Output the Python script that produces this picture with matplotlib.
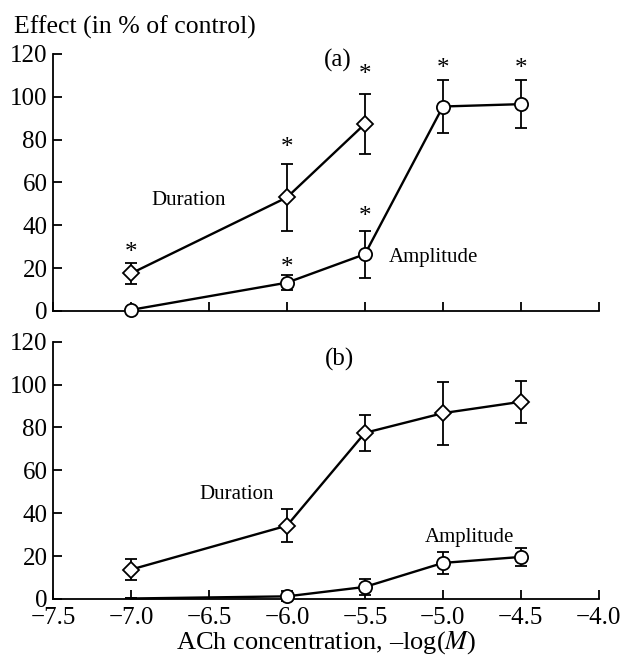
import matplotlib.pyplot as plt
import numpy as np

plt.rcParams['font.family'] = ['Liberation Serif', 'DejaVu Serif']
plt.rcParams['mathtext.fontset'] = 'stix'
plt.rcParams['axes.unicode_minus'] = True

conc = [-7.0, -6.0, -5.5, -5.0, -4.5]

# panel (a)
dur_a_x = [-7.0, -6.0, -5.5]
dur_a = [17.5, 53, 87.3]
dur_a_err = [4.8, 15.7, 14]
amp_a = [0.5, 13.2, 26.5, 95.4, 96.5]
amp_a_err = [0, 3.4, 11, 12.3, 11.2]
stars_a_x = [-7.0, -6.0, -5.5, -6.0, -5.5, -5.0, -4.5]
stars_a_y = [27, 76, 110, 20, 44, 113, 113]

# panel (b)
dur_b = [13.7, 34.2, 77.5, 86.7, 92]
dur_b_err = [4.8, 7.8, 8.3, 14.7, 9.8]
amp_b = [0.2, 1.2, 5.6, 16.8, 19.6]
amp_b_err = [0, 2.3, 3.7, 5, 4.1]

xticks = [-7.5, -7.0, -6.5, -6.0, -5.5, -5.0, -4.5, -4.0]
yticks = [0, 20, 40, 60, 80, 100, 120]

fig = plt.figure(figsize=(6.26, 6.56), dpi=100)
ax1 = fig.add_axes([0.0847, 0.526, 0.872, 0.392])
ax2 = fig.add_axes([0.0847, 0.087, 0.872, 0.392])

def style(ax):
    ax.set_xlim(-7.5, -4.0)
    ax.set_ylim(0, 120)
    ax.spines['top'].set_visible(False)
    ax.spines['right'].set_visible(False)
    ax.spines['left'].set_linewidth(1.3)
    ax.spines['bottom'].set_linewidth(1.3)
    ax.set_xticks(xticks)
    ax.set_yticks(yticks)
    ax.tick_params(axis='x', direction='in', length=6.5, width=1.3, labelsize=18, pad=6)
    ax.tick_params(axis='y', direction='in', length=6.5, width=1.3, labelsize=18, pad=4)

def series(ax, x, y, err, marker, skip_first=False):
    ax.plot(x, y, color='k', lw=1.7, zorder=2, clip_on=False)
    ax.errorbar(x, y, yerr=err, fmt='none', ecolor='k', elinewidth=1.3,
                capsize=4, capthick=1.3, zorder=3, clip_on=False)
    xs, ys = (x[1:], y[1:]) if skip_first else (x, y)
    ax.plot(xs, ys, linestyle='none', marker=marker, markersize=8 if marker == 'D' else 9.5,
            mfc='white', mec='k', mew=1.3, zorder=4, clip_on=False)

style(ax1)
series(ax1, dur_a_x, dur_a, dur_a_err, 'D')
series(ax1, conc, amp_a, amp_a_err, 'o')
ax1.set_xticklabels([])
for sx, sy in zip(stars_a_x, stars_a_y):
    ax1.text(sx, sy, '*', ha='center', va='center', fontsize=18)
ax1.text(-6.63, 51.4, 'Duration', ha='center', va='center', fontsize=15)
ax1.text(-5.06, 25, 'Amplitude', ha='center', va='center', fontsize=15)
ax1.text(-5.675, 117, '(a)', ha='center', va='center', fontsize=18)

style(ax2)
series(ax2, conc, dur_b, dur_b_err, 'D')
series(ax2, conc, amp_b, amp_b_err, 'o', skip_first=True)
ax2.set_xticklabels([('%.1f' % v).replace('-', '\u2212') for v in xticks])
ax2.set_xlabel('ACh concentration, \u2013log($\\mathit{M}$)', fontsize=19, labelpad=0)
ax2.text(-6.32, 48.7, 'Duration', ha='center', va='center', fontsize=15)
ax2.text(-4.83, 28.5, 'Amplitude', ha='center', va='center', fontsize=15)
ax2.text(-5.66, 111.7, '(b)', ha='center', va='center', fontsize=18)

fig.text(0.022, 0.959, 'Effect (in % of control)', ha='left', va='center', fontsize=18.5)

fig.savefig('out.png', dpi=100)
